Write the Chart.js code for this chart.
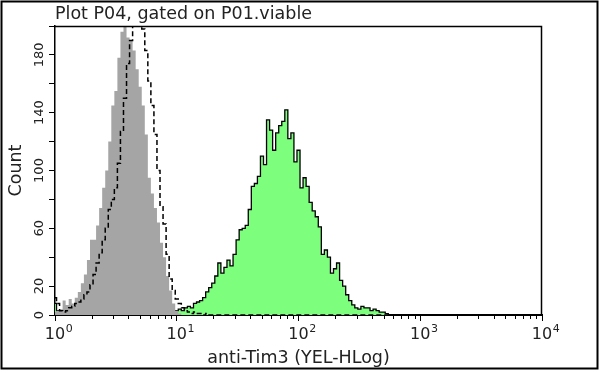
<!DOCTYPE html>
<html>
<head>
<meta charset="utf-8">
<script src="https://cdn.jsdelivr.net/npm/chart.js@4.4.1/dist/chart.umd.min.js"></script>
<style>
  html, body { margin: 0; padding: 0; background: #fff; }
  canvas { display: block; }
</style>
</head>
<body>
<canvas id="histo" width="600" height="371"></canvas>
<script>
// log10 of channel (1/40 decade bins)
const channelLog = [
  0, 0.025, 0.05, 0.075, 0.1, 0.125, 0.15, 0.175,
  0.2, 0.225, 0.25, 0.275, 0.3, 0.325, 0.35, 0.375,
  0.4, 0.425, 0.45, 0.475, 0.5, 0.525, 0.55, 0.575,
  0.6, 0.625, 0.65, 0.675, 0.7, 0.725, 0.75, 0.775,
  0.8, 0.825, 0.85, 0.875, 0.9, 0.925, 0.95, 0.975,
  1, 1.025, 1.05, 1.075, 1.1, 1.125, 1.15, 1.175,
  1.2, 1.225, 1.25, 1.275, 1.3, 1.325, 1.35, 1.375,
  1.4, 1.425, 1.45, 1.475, 1.5, 1.525, 1.55, 1.575,
  1.6, 1.625, 1.65, 1.675, 1.7, 1.725, 1.75, 1.775,
  1.8, 1.825, 1.85, 1.875, 1.9, 1.925, 1.95, 1.975,
  2, 2.025, 2.05, 2.075, 2.1, 2.125, 2.15, 2.175,
  2.2, 2.225, 2.25, 2.275, 2.3, 2.325, 2.35, 2.375,
  2.4, 2.425, 2.45, 2.475, 2.5, 2.525, 2.55, 2.575,
  2.6, 2.625, 2.65, 2.675, 2.7, 2.725, 2.75, 2.775,
  2.8
];

// grey filled histogram
const isotype = [
  2, 3, 4, 10, 7, 11, 8, 12,
  16, 22, 28, 38, 52, 52, 62, 74,
  88, 100, 120, 145, 155, 178, 196, 201,
  192, 190, 183, 170, 158, 145, 125, 95,
  84, 74, 64, 50, 40, 27, 17, 8,
  3, 1, 0, 0, 0, 0, 0, 0,
  0, 0, 0, 0, 0, 0, 0, 0,
  0, 0, 0, 0, 0, 0, 0, 0,
  0, 0, 0, 0, 0, 0, 0, 0,
  0, 0, 0, 0, 0, 0, 0, 0,
  0, 0, 0, 0, 0, 0, 0, 0,
  0, 0, 0, 0, 0, 0, 0, 0,
  0, 0, 0, 0, 0, 0, 0, 0,
  0, 0, 0, 0, 0, 0, 0, 0,
  0
];

// dashed outline
const unstained = [
  12, 8, 3, 2, 3, 5, 6, 8,
  9, 11, 14, 16, 21, 28, 36, 43,
  52, 60, 73, 80, 88, 105, 127, 150,
  174, 190, 205, 215, 212, 198, 183, 162,
  145, 125, 100, 75, 63, 42, 25, 17,
  11, 8, 5, 3, 2, 1, 2, 1,
  1, 0, 1, 0, 0, 0, 0, 0,
  0, 0, 0, 0, 0, 0, 0, 0,
  0, 0, 0, 0, 0, 0, 0, 0,
  0, 0, 0, 0, 0, 0, 0, 0,
  0, 0, 0, 0, 0, 0, 0, 0,
  0, 0, 0, 0, 0, 0, 0, 0,
  0, 0, 0, 0, 0, 0, 0, 0,
  0, 0, 0, 0, 0, 0, 0, 0,
  0
];

// green filled histogram
const antiTim3 = [
  8, 3, 1, 0, 1, 0, 0, 1,
  0, 1, 0, 0, 1, 0, 0, 1,
  0, 0, 1, 0, 0, 1, 0, 0,
  1, 0, 0, 2, 0, 1, 0, 1,
  2, 1, 0, 1, 2, 1, 3, 2,
  3, 4, 3, 5, 6, 5, 8, 9,
  10, 12, 16, 19, 22, 27, 36, 29,
  33, 38, 34, 42, 52, 59, 60, 62,
  73, 89, 91, 96, 110, 104, 135, 128,
  114, 126, 131, 134, 142, 122, 126, 106,
  114, 88, 95, 89, 78, 72, 68, 61,
  42, 45, 40, 29, 32, 36, 24, 20,
  14, 10, 7, 5, 4, 6, 5, 5,
  3, 4, 3, 2, 2, 1, 0, 0,
  0
];

const yTickLabels = [0, 20, 60, 100, 140, 180];
const decades = [1, 10, 100, 1000, 10000];
const decadeExp = ['0', '1', '2', '3', '4'];

const FONT = 'DejaVu Sans';
const TEXT = '#222';

const toPoints = counts => channelLog.map((l, i) => ({ x: Math.pow(10, l), y: counts[i] }));

// frame, minor ticks, tick labels with superscripts, outer border
const plotDecor = {
  id: 'plotDecor',
  afterDraw(chart) {
    const { ctx, chartArea: a, scales: { x, y } } = chart;
    ctx.save();
    ctx.strokeStyle = '#000';

    ctx.lineWidth = 1.5;
    ctx.beginPath();
    ctx.moveTo(a.left, a.top + 0.5);
    ctx.lineTo(a.right - 0.5, a.top + 0.5);
    ctx.lineTo(a.right - 0.5, a.bottom);
    ctx.stroke();

    // minor log ticks
    ctx.lineWidth = 1;
    ctx.beginPath();
    decades.slice(0, -1).forEach(d => {
      for (let k = 2; k < 10; k++) {
        const px = Math.round(x.getPixelForValue(k * d)) + 0.5;
        ctx.moveTo(px, a.bottom);
        ctx.lineTo(px, a.bottom + 4);
      }
    });
    ctx.stroke();

    ctx.fillStyle = TEXT;
    // x labels 10^n
    decades.forEach((d, i) => {
      const px = x.getPixelForValue(d);
      ctx.font = '16px "' + FONT + '"';
      ctx.textAlign = 'center';
      ctx.textBaseline = 'alphabetic';
      const w = ctx.measureText('10').width;
      ctx.fillText('10', px, 339);
      ctx.font = '11px "' + FONT + '"';
      ctx.textAlign = 'left';
      ctx.fillText(decadeExp[i], px + w / 2 + 0.5, 332);
    });

    // y labels, rotated
    ctx.font = '13px "' + FONT + '"';
    ctx.textAlign = 'center';
    ctx.textBaseline = 'middle';
    yTickLabels.forEach(v => {
      const py = y.getPixelForValue(v);
      ctx.save();
      ctx.translate(40, py);
      ctx.rotate(-Math.PI / 2);
      ctx.fillText(String(v), 0, 0);
      ctx.restore();
    });

    ctx.lineWidth = 2;
    ctx.strokeRect(1.5, 1.5, 596, 367);
    ctx.restore();
  }
};

new Chart(document.getElementById('histo').getContext('2d'), {
  type: 'line',
  data: {
    datasets: [
      {
        label: 'Control',
        data: toPoints(unstained),
        stepped: 'middle',
        borderColor: '#000',
        borderWidth: 1.5,
        borderDash: [5, 3],
        fill: false,
        pointRadius: 0
      },
      {
        label: 'Isotype',
        data: toPoints(isotype),
        stepped: 'middle',
        borderWidth: 0,
        borderColor: 'rgba(0,0,0,0)',
        backgroundColor: '#a5a5a5',
        fill: 'origin',
        pointRadius: 0
      },
      {
        label: 'anti-Tim3',
        data: toPoints(antiTim3),
        stepped: 'middle',
        borderColor: '#000',
        borderWidth: 1.3,
        backgroundColor: '#7dff7d',
        fill: 'origin',
        pointRadius: 0
      }
    ]
  },
  options: {
    responsive: false,
    animation: false,
    layout: { padding: { left: 0, right: 58, top: 0, bottom: 0 } },
    plugins: {
      legend: { display: false },
      tooltip: { enabled: false },
      title: {
        display: true,
        text: 'Plot P04, gated on P01.viable',
        align: 'start',
        fullSize: false,
        color: TEXT,
        font: { family: FONT, size: 17.5, weight: 'normal' },
        padding: { top: 3.5, bottom: 1.5 }
      }
    },
    scales: {
      x: {
        type: 'logarithmic',
        min: 1,
        max: 10000,
        afterBuildTicks: s => { s.ticks = decades.map(v => ({ value: v, major: true })); },
        afterFit: s => { s.height = 56; },
        grid: { drawOnChartArea: false, drawTicks: true, tickLength: 6, tickColor: '#000', tickWidth: 1 },
        border: { display: true, color: '#000', width: 2 },
        ticks: { display: false },
        title: {
          display: true,
          text: 'anti-Tim3 (YEL-HLog)',
          color: TEXT,
          font: { family: FONT, size: 17.5 },
          padding: { top: 0, bottom: 2.5 }
        }
      },
      y: {
        min: 0,
        max: 200,
        afterFit: s => { s.width = 55; },
        ticks: { stepSize: 20, display: false },
        grid: { drawOnChartArea: false, drawTicks: true, tickLength: 6, tickColor: '#000', tickWidth: 1 },
        border: { display: true, color: '#000', width: 1.5 },
        title: {
          display: true,
          text: 'Count',
          color: TEXT,
          font: { family: FONT, size: 17.5 },
          padding: { top: 6, bottom: 0 }
        }
      }
    }
  },
  plugins: [plotDecor]
});
</script>
</body>
</html>
